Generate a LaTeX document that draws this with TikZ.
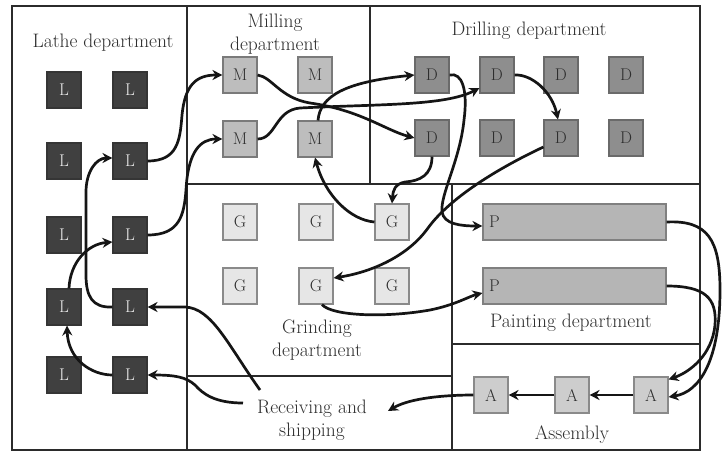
\documentclass[tikz,border=0pt]{standalone}
\usepackage{fontspec}
\usetikzlibrary{arrows.meta}
\definecolor{ldark}{HTML}{404040}
\definecolor{ldarkb}{HTML}{353535}
\definecolor{lighttext}{HTML}{E8E8E8}
\definecolor{mgray}{HTML}{BDBDBD}
\definecolor{mgrayb}{HTML}{7A7A7A}
\definecolor{dgray}{HTML}{8E8E8E}
\definecolor{dgrayb}{HTML}{6A6A6A}
\definecolor{ggray}{HTML}{E6E6E6}
\definecolor{ggrayb}{HTML}{8A8A8A}
\definecolor{pgray}{HTML}{B5B5B5}
\definecolor{pgrayb}{HTML}{808080}
\definecolor{agray}{HTML}{CDCDCD}
\definecolor{agrayb}{HTML}{8A8A8A}
\definecolor{txt}{HTML}{2E2E2E}
\definecolor{framec}{HTML}{2B2B2B}
\definecolor{arrc}{HTML}{151515}
\begin{document}
\begin{tikzpicture}[x=1pt,y=-1pt,
  box/.style={draw, line width=1.1pt, minimum width=34pt, minimum height=36pt, inner sep=0pt, font=\fontsize{17}{17}\selectfont},
  lbox/.style={box, fill=ldark, draw=ldarkb, text=lighttext},
  mbox/.style={box, fill=mgray, draw=mgrayb, text=txt},
  dbox/.style={box, fill=dgray, draw=dgrayb, text=txt},
  gbox/.style={box, fill=ggray, draw=ggrayb, text=txt},
  abox/.style={box, fill=agray, draw=agrayb, text=txt},
  pbox/.style={draw=pgrayb, fill=pgray, line width=1.1pt, minimum height=36pt, text width=171pt, inner xsep=6pt, inner ysep=0pt, align=left, text=txt, font=\fontsize{17}{17}\selectfont},
  lbl/.style={text=txt, font=\fontsize{19.5}{23}\selectfont, align=center, inner sep=0pt},
  frame/.style={line width=2.2pt, draw=framec},
  arr/.style={line width=2.7pt, draw=arrc, -{Stealth[length=10pt,width=10pt]}},
]
\useasboundingbox (0,0) rectangle (722,452);
\fill[white] (0,0) rectangle (722,452);

% frame
\draw[frame] (12,6) rectangle (700,450);
\draw[frame] (187,6) -- (187,450);
\draw[frame] (370,6) -- (370,184);
\draw[frame] (187,184) -- (700,184);
\draw[frame] (452,184) -- (452,450);
\draw[frame] (452,344) -- (700,344);
\draw[frame] (187,376) -- (452,376);

% labels
\node[lbl] (lathe) at (103,43) {Lathe department};
\node[lbl] (milling) at (275,34) {Milling\\department};
\node[lbl] (drilling) at (529,31) {Drilling department};
\node[lbl] (grinding) at (317,340) {Grinding\\department};
\node[lbl] (painting) at (571,323) {Painting department};
\node[lbl] (rec) at (312,420) {Receiving and\\shipping};
\node[lbl] (assembly) at (572,435) {Assembly};

% lathe
\node[lbox] (L11) at (64,90) {L};  \node[lbox] (L12) at (130,90) {L};
\node[lbox] (L21) at (64,161) {L}; \node[lbox] (L22) at (130,161) {L};
\node[lbox] (L31) at (64,235) {L}; \node[lbox] (L32) at (130,235) {L};
\node[lbox] (L41) at (64,307) {L}; \node[lbox] (L42) at (130,307) {L};
\node[lbox] (L51) at (64,375) {L}; \node[lbox] (L52) at (130,375) {L};
% milling
\node[mbox] (M11) at (240,75) {M};  \node[mbox] (M12) at (315,75) {M};
\node[mbox] (M21) at (240,139) {M}; \node[mbox] (M22) at (315,139) {M};
% drilling
\node[dbox] (D11) at (432,75) {D}; \node[dbox] (D12) at (497,75) {D};
\node[dbox] (D13) at (561,75) {D}; \node[dbox] (D14) at (626,75) {D};
\node[dbox] (D21) at (432,138) {D}; \node[dbox] (D22) at (497,138) {D};
\node[dbox] (D23) at (561,138) {D}; \node[dbox] (D24) at (626,138) {D};
% grinding
\node[gbox] (G11) at (240,222) {G}; \node[gbox] (G12) at (316,222) {G}; \node[gbox] (G13) at (392,222) {G};
\node[gbox] (G21) at (240,286) {G}; \node[gbox] (G22) at (316,286) {G}; \node[gbox] (G23) at (392,286) {G};
% painting
\node[pbox] (P1) at (574.5,222) {P};
\node[pbox] (P2) at (574.5,286) {P};
% assembly
\node[abox] (A1) at (491,395) {A};
\node[abox] (A2) at (572,395) {A};
\node[abox] (A3) at (651,395) {A};

% coordinates near receiving text
\coordinate (r1) at (260,390);
\coordinate (r2) at (243,403);
\coordinate (r3) at (388,411);

% lathe flows
\draw[arr] (r1) .. controls (228,345) and (212,308) .. (185,307) -- (L42.east);
\draw[arr] (r2) .. controls (215,403) and (203,394) .. (195,385) .. controls (186,377) and (175,375) .. (L52.east);
\draw[arr] (L52.west) .. controls (92,375) and (68,360) .. ([xshift=3pt]L41.south);
\draw[arr] ([xshift=5pt]L41.north) .. controls (70,262) and (88,244) .. ([yshift=-7pt]L32.west);
\draw[arr] (L42.west) .. controls (92,308) and (86,296) .. (86,275) -- (86,192) .. controls (86,172) and (96,158) .. ([yshift=3pt]L22.west);
\draw[arr] (L22.east) .. controls (178,161) and (180,140) .. (182,115) .. controls (185,85) and (196,75) .. (M11.west);
\draw[arr] (L32.east) .. controls (180,235) and (184,215) .. (186,190) .. controls (188,152) and (200,139) .. (M21.west);

% milling -> drilling
\draw[arr] (M11.east) .. controls (272,77) and (280,98) .. (310,103) .. controls (360,110) and (385,130) .. (D21.west);
\draw[arr] (M21.east) .. controls (276,139) and (275,110) .. (300,108) .. controls (380,104) and (445,106) .. ([yshift=-13pt]D12.west);
\draw[arr] ([xshift=3pt]M22.north) .. controls (320,96) and (345,82) .. (D11.west);

% drilling flows
\draw[arr] (D12.east) .. controls (532,74) and (552,92) .. ([xshift=-3pt]D23.north);
\draw[arr] (D11.east) .. controls (462,72) and (468,90) .. (464,120) .. controls (460,160) and (440,195) .. (442,212) .. controls (444,224) and (460,226) .. ([yshift=-4pt]P1.west);
\draw[arr] (D21.south) .. controls (432,175) and (420,181) .. (405,182) .. controls (395,184) and (393,190) .. (G13.north);
\draw[arr] ([yshift=-9pt]D23.west) .. controls (505,165) and (452,195) .. (428,228) .. controls (408,256) and (372,272) .. ([yshift=8pt]G22.east);

% grinding flows
\draw[arr] (G13.west) .. controls (350,220) and (325,195) .. (M22.south);
\draw[arr] ([xshift=6pt]G22.south) .. controls (332,316) and (385,318) .. (430,310) .. controls (455,305) and (470,296) .. ([yshift=-7pt]P2.west);

% painting -> assembly
\draw[arr] (P1.east) .. controls (708,220) and (720,240) .. (720,290) .. controls (720,360) and (700,392) .. ([yshift=-2pt]A3.east);
\draw[arr] (P2.east) .. controls (705,286) and (717,298) .. (715,325) .. controls (712,355) and (690,372) .. ([yshift=-3pt]A3.north east);

% assembly
\draw[arr] (A3.west) -- (A2.east);
\draw[arr] (A2.west) -- (A1.east);
\draw[arr] (A1.west) .. controls (445,395) and (410,398) .. (r3);
\end{tikzpicture}
\end{document}
